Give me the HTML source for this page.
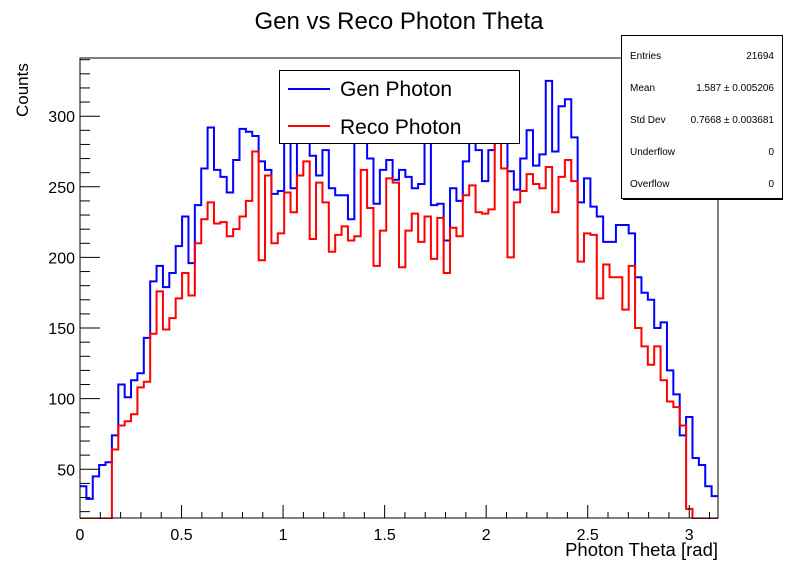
<!DOCTYPE html>
<html><head><meta charset="utf-8"><style>
html,body{margin:0;padding:0;background:#fff;}
svg{display:block;font-family:"Liberation Sans",sans-serif;}
</style></head><body>
<svg id="c" width="798" height="576" viewBox="0 0 798 576">
<rect width="798" height="576" fill="#fff"/>
<text x="399" y="29" font-size="24" text-anchor="middle">Gen vs Reco Photon Theta</text>
<text transform="translate(28,117) rotate(-90)" font-size="17" text-anchor="start">Counts</text>
<text x="718" y="556" font-size="18.5" text-anchor="end">Photon Theta [rad]</text>
<defs><clipPath id="clipf"><rect x="80" y="58" width="638" height="461"/></clipPath></defs>
<g id="marks" clip-path="url(#clipf)"></g>
<g id="axes"></g>
<g>
<rect x="279.5" y="70.5" width="240" height="73" fill="#fff" stroke="#000"/>
<line x1="288" y1="89" x2="330" y2="89" stroke="#0000ff" stroke-width="2"/>
<text x="340" y="96" font-size="21">Gen Photon</text>
<line x1="288" y1="126" x2="330" y2="126" stroke="#ff0000" stroke-width="2"/>
<text x="340" y="134" font-size="21">Reco Photon</text>
</g>
<g font-size="10">
<rect x="621.5" y="35.5" width="161" height="163" fill="#fff" stroke="#000"/>
<line x1="623" y1="199.5" x2="783" y2="199.5" stroke="#000"/>
<text x="630" y="59">Entries</text><text x="774" y="59" text-anchor="end">21694</text>
<text x="630" y="91">Mean</text><text x="774" y="91" text-anchor="end">1.587 ± 0.005206</text>
<text x="630" y="123">Std Dev</text><text x="774" y="123" text-anchor="end">0.7668 ± 0.003681</text>
<text x="630" y="155">Underflow</text><text x="774" y="155" text-anchor="end">0</text>
<text x="630" y="187">Overflow</text><text x="774" y="187" text-anchor="end">0</text>
</g>
</svg>
<script>
const xTickLabels=["0","0.5","1","1.5","2","2.5","3"];
const yTickLabels=["50","100","150","200","250","300"];
const genCounts=[38,29,45,53,55,74,110,101,113,118,143,183,194,179,189,208,229,196,237,263,292,262,257,246,269,291,289,286,268,262,245,247,290,249,285,285,272,258,276,249,244,244,227,290,285,270,238,262,269,255,262,257,249,252,285,237,238,212,249,240,268,290,276,254,276,290,285,261,248,270,290,265,273,325,275,307,312,285,239,256,236,229,211,211,223,223,217,186,175,170,150,154,120,103,74,87,58,53,38,31];
const recoCounts=[0,0,0,0,0,64,81,84,89,108,112,146,176,149,157,171,189,173,210,227,239,224,225,215,220,229,240,275,198,258,210,217,246,232,258,268,213,253,239,204,216,222,212,215,262,235,194,219,256,253,193,219,231,211,229,199,228,189,221,215,244,251,232,231,234,283,263,200,239,247,259,252,249,264,232,257,269,254,197,217,216,171,195,186,186,163,194,150,137,124,137,113,98,94,81,22,0,0,0,0];
const X0=80,X1=718,Y0=518,Y1=58,XMAX=Math.PI,YMIN=15.5,YMAX=341.2;
function sx(v){return X0+(v/XMAX)*(X1-X0);}
function sy(v){return Y0-(v-YMIN)/(YMAX-YMIN)*(Y0-Y1);}
const NS="http://www.w3.org/2000/svg";
function mk(t,a,p){const e=document.createElementNS(NS,t);for(const k in a)e.setAttribute(k,a[k]);p.appendChild(e);return e;}
const marks=document.getElementById('marks'),axes=document.getElementById('axes');
function hist(vals,color,name){
  const n=vals.length,w=XMAX/n;let d="";
  for(let i=0;i<n;i++){
    const y=Math.max(sy(vals[i]),Y1-2);const yy=Math.min(y,Y0+1);
    d+=(i===0?"M":"L")+sx(i*w).toFixed(2)+","+yy.toFixed(2)+"L"+sx((i+1)*w).toFixed(2)+","+yy.toFixed(2);
  }
  const p=mk('path',{d:d,fill:"none",stroke:color,"stroke-width":2},marks);
  
  
}
hist(genCounts,"#0000ff","gen-photon-series");
hist(recoCounts,"#ff0000","reco-photon-series");
const fr=mk('rect',{x:X0,y:Y1,width:X1-X0,height:Y0-Y1,fill:"none",stroke:"#000","stroke-width":1},axes);


for(let i=0;i<=31;i++){
  const v=i*0.1;const x=sx(v);const major=i%5===0;
  mk('line',{x1:x,y1:Y0,x2:x,y2:Y0-(major?13:6),stroke:"#000"},axes);
}
xTickLabels.forEach(function(l){
  const t=mk('text',{x:sx(parseFloat(l)),y:540,"font-size":16,"text-anchor":"middle"},axes);
  t.textContent=l;
  
  
});
for(let v=20;v<=340;v+=10){
  const y=sy(v);const major=v%50===0;
  mk('line',{x1:X0,y1:y,x2:X0+(major?20:10),y2:y,stroke:"#000"},axes);
}
yTickLabels.forEach(function(l){
  const t=mk('text',{x:75,y:sy(parseFloat(l))+6,"font-size":16,"text-anchor":"end"},axes);
  t.textContent=l;
  
  
});
</script>
</body></html>
